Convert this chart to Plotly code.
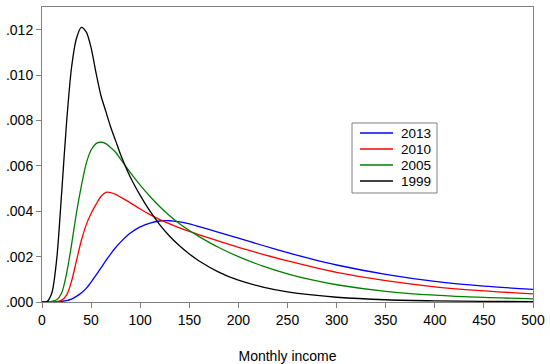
import plotly.graph_objects as go

# Monthly income grid (x)
income = [0, 5, 10, 15, 20, 25, 30, 35, 40, 45, 50, 55, 60, 65, 70, 75, 80, 90, 100,
          110, 120, 130, 140, 150, 160, 180, 200, 225, 250, 275, 300, 350, 400, 450, 500]

dens_2013 = [0, 0, 0.000005, 0.00001, 0.00003, 0.00006, 0.00013, 0.00025, 0.0004, 0.0006,
             0.00088, 0.00118, 0.0015, 0.00182, 0.00212, 0.0024, 0.00264, 0.00304, 0.00331,
             0.00348, 0.00357, 0.00358, 0.00353, 0.00344, 0.00332, 0.00307, 0.00281, 0.00249,
             0.00218, 0.00189, 0.00163, 0.00122, 0.00091, 0.0007, 0.00056]

dens_2010 = [0, 0, 0, 0.00002, 0.00008, 0.0003, 0.0009, 0.0018, 0.0027, 0.0034,
             0.0039, 0.0043, 0.00465, 0.00483, 0.00482, 0.00474, 0.00462, 0.00437, 0.0041,
             0.00385, 0.00363, 0.00344, 0.00327, 0.00311, 0.00296, 0.00268, 0.00241, 0.0021,
             0.00181, 0.00155, 0.00131, 0.00094, 0.00067, 0.00049, 0.00036]

dens_2005 = [0, 0, 0.00003, 0.0001, 0.0004, 0.00125, 0.0025, 0.0039, 0.0051, 0.0061,
             0.0067, 0.00698, 0.00704, 0.00698, 0.0068, 0.0066, 0.0063, 0.0057, 0.00515,
             0.00465, 0.0042, 0.0038, 0.00345, 0.00315, 0.00288, 0.0024, 0.002, 0.00158,
             0.00124, 0.00097, 0.00076, 0.00047, 0.0003, 0.0002, 0.00014]

dens_1999 = [0, 0.00002, 0.0004, 0.0019, 0.0048, 0.0079, 0.0103, 0.0116, 0.0121, 0.0119,
             0.0112, 0.0101, 0.0091, 0.0084, 0.0077, 0.0071, 0.0065, 0.0055, 0.0047,
             0.0040, 0.0034, 0.0029, 0.00248, 0.00212, 0.00181, 0.00132, 0.00096, 0.00066,
             0.00045, 0.00031, 0.00021, 0.0001, 0.00005, 0.00003, 0.00002]

series_names = ["2013", "2010", "2005", "1999"]
series_colors = ["#0000FF", "#FF0000", "#008000", "#000000"]

y_tickvals = [0, 0.002, 0.004, 0.006, 0.008, 0.010, 0.012]
y_ticktext = [".000", ".002", ".004", ".006", ".008", ".010", ".012"]
x_tickvals = [0, 50, 100, 150, 200, 250, 300, 350, 400, 450, 500]

FONT = "Liberation Sans, Arial, sans-serif"
W, H = 550, 364
ML, MR, MT, MB = 42, 17, 7, 62
PW, PH = W - ML - MR, H - MT - MB


def px_x(p):  # pixel -> paper x
    return (p - ML) / PW


def px_y(p):  # pixel -> paper y
    return (H - MB - p) / PH


fig = go.Figure()
for name, ys, col in zip(series_names, [dens_2013, dens_2010, dens_2005, dens_1999], series_colors):
    fig.add_trace(go.Scatter(
        x=income, y=ys, mode="lines", name=name,
        line=dict(color=col, width=1.3, shape="spline", smoothing=0.8),
        showlegend=False, hoverinfo="skip",
    ))

# Legend box drawn like the original (compact rows)
shapes = [dict(type="rect", xref="paper", yref="paper",
               x0=px_x(352), x1=px_x(437), y0=px_y(193), y1=px_y(123),
               line=dict(color="#808080", width=1), fillcolor="white", layer="above")]
annotations = []
for i, (name, col) in enumerate(zip(series_names, series_colors)):
    yc = 133 + 16 * i
    shapes.append(dict(type="line", xref="paper", yref="paper",
                       x0=px_x(360), x1=px_x(393), y0=px_y(yc), y1=px_y(yc),
                       line=dict(color=col, width=1.3), layer="above"))
    annotations.append(dict(xref="paper", yref="paper", x=px_x(399), y=px_y(yc),
                            xanchor="left", yanchor="middle", text=name, showarrow=False,
                            font=dict(family=FONT, size=13.5, color="#000000")))

fig.update_layout(
    width=W, height=H,
    margin=dict(l=ML, r=MR, t=MT, b=MB),
    paper_bgcolor="white", plot_bgcolor="white",
    font=dict(family=FONT, size=14, color="#000000"),
    showlegend=False,
    shapes=shapes, annotations=annotations,
)

fig.update_xaxes(
    range=[0, 500], tickvals=x_tickvals, automargin=False,
    showgrid=False, zeroline=False,
    showline=True, mirror=True, linecolor="#808080", linewidth=1,
    ticks="outside", ticklen=5, tickcolor="#808080",
    tickfont=dict(family=FONT, size=14),
    title=dict(text="Monthly income", font=dict(family=FONT, size=14), standoff=24),
)
fig.update_yaxes(
    range=[0, 0.013], tickvals=y_tickvals, ticktext=y_ticktext, automargin=False,
    showgrid=False, zeroline=False,
    showline=True, mirror=True, linecolor="#808080", linewidth=1,
    ticks="outside", ticklen=5, tickcolor="#808080",
    tickfont=dict(family=FONT, size=14),
)

fig.write_html("out.html", config={"displayModeBar": False},
               post_script="document.body.style.margin='0';document.body.style.overflow='hidden';")
